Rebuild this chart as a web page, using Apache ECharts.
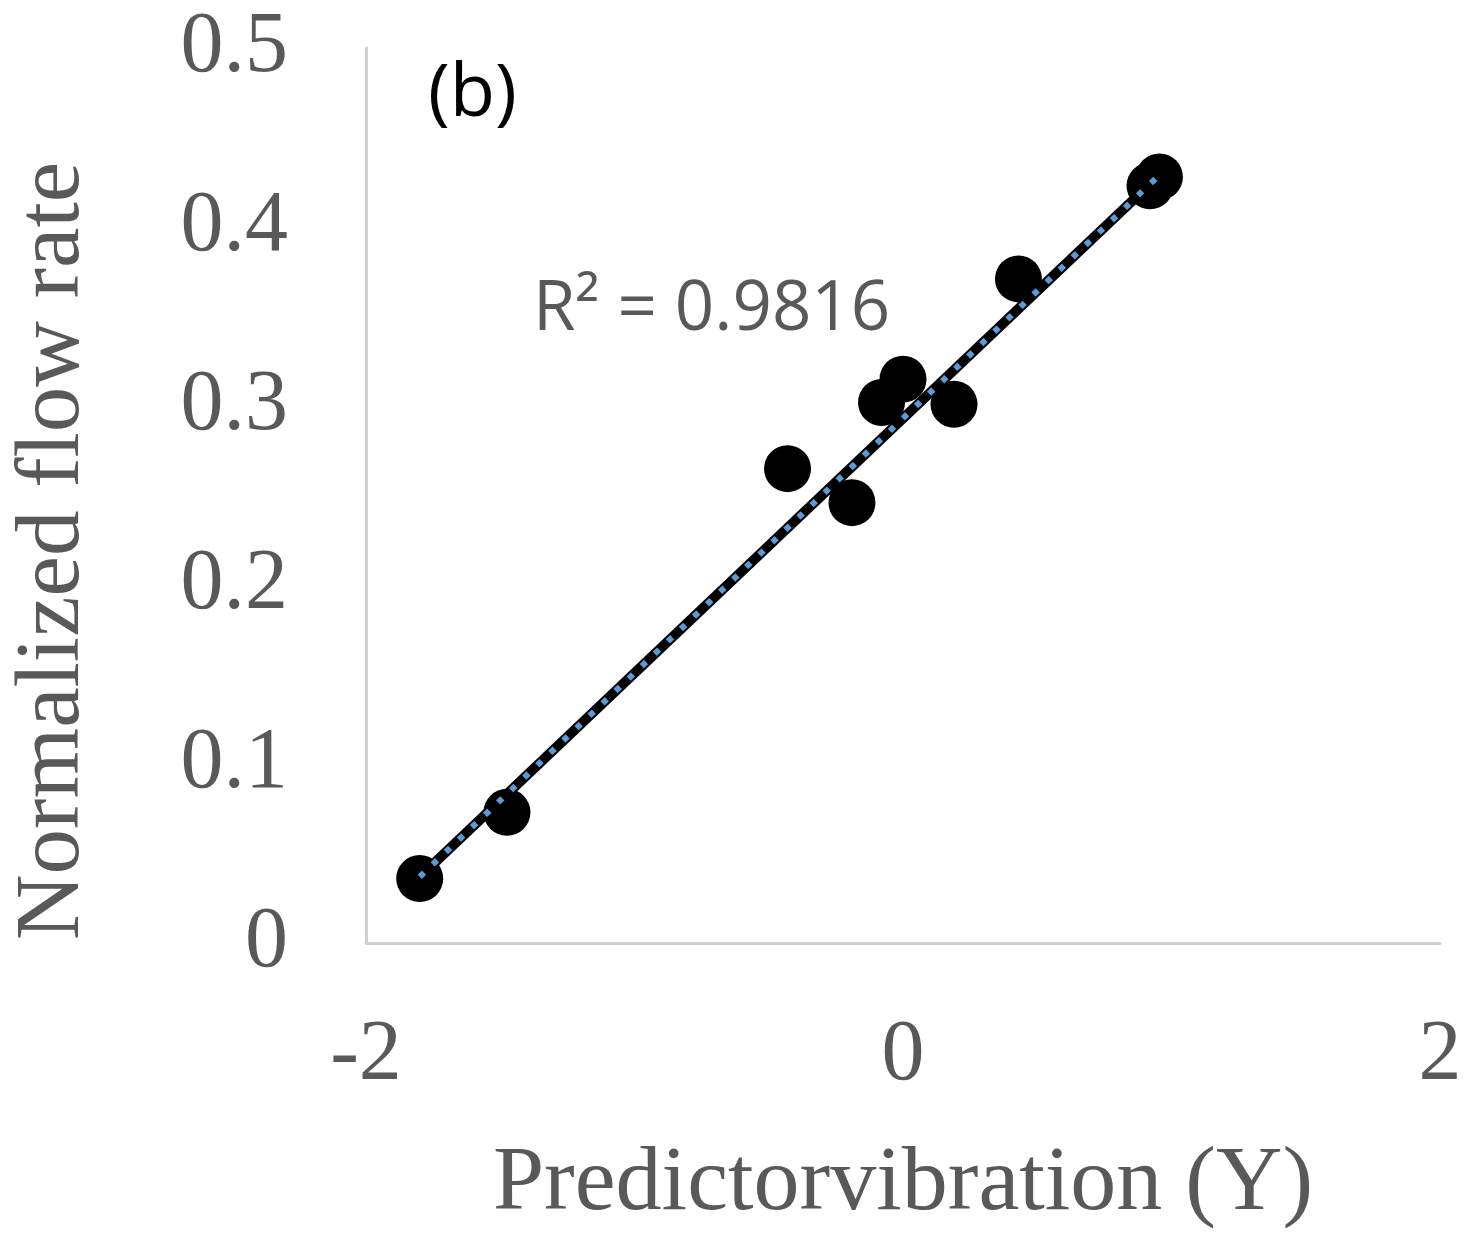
<!DOCTYPE html>
<html>
<head>
<meta charset="utf-8">
<script src="https://cdn.jsdelivr.net/npm/echarts@6/dist/echarts.min.js"></script>
<style>
  html, body { margin: 0; padding: 0; background: #fff; }
  #chart { width: 1484px; height: 1236px; }
</style>
</head>
<body>
<div id="chart"></div>
<script>
// measured points: predictor vibration (Y) vs normalized flow rate
const predictorX = [-1.80, -1.475, -0.43, -0.19, -0.08, 0.0, 0.19, 0.43, 0.92, 0.955];
const flowRate = [0.036, 0.073, 0.265, 0.246, 0.302, 0.315, 0.301, 0.371, 0.423, 0.428];
// linear trendline endpoints
const trendX = [-1.80, 0.955];
const trendY = [0.037, 0.429];
const rSquared = '0.9816';

const axisGray = '#595959';
const serif = '"Liberation Serif", "DejaVu Serif", serif';

const points = predictorX.map((x, i) => [x, flowRate[i]]);
const trend = trendX.map((x, i) => [x, trendY[i]]);

const myChart = echarts.init(document.getElementById('chart'));
myChart.setOption({
  animation: false,
  grid: { left: 366, right: 44, top: 48, bottom: 289 },
  xAxis: {
    type: 'value',
    min: -2,
    max: 2,
    interval: 2,
    name: 'Predictorvibration (Y)',
    nameLocation: 'middle',
    nameGap: 196,
    nameTextStyle: { color: axisGray, fontFamily: serif, fontSize: 92 },
    axisLine: { onZero: false, lineStyle: { color: '#d0d0d0', width: 3 } },
    axisTick: { show: false },
    splitLine: { show: false },
    axisLabel: { color: axisGray, fontFamily: serif, fontSize: 86, margin: 70 }
  },
  yAxis: {
    type: 'value',
    min: 0,
    max: 0.5,
    interval: 0.1,
    axisLine: { show: true, onZero: false, lineStyle: { color: '#d0d0d0', width: 3 } },
    axisTick: { show: false },
    splitLine: { show: false },
    axisLabel: {
      color: axisGray, fontFamily: serif, fontSize: 86, margin: 78,
      formatter: v => (v === 0 ? '0' : v.toFixed(1))
    }
  },
  graphic: [
    {
      type: 'text',
      x: 54, y: 551,
      rotation: Math.PI / 2,
      style: {
        text: 'Normalized flow rate',
        fill: axisGray,
        font: '91px ' + serif,
        textAlign: 'center',
        textVerticalAlign: 'middle'
      }
    },
    {
      type: 'text',
      x: 428, y: 95,
      style: {
        text: '(b)',
        fill: '#000',
        font: '74px "Open Sans", "Noto Sans", sans-serif',
        textVerticalAlign: 'middle'
      }
    },
    {
      type: 'text',
      x: 533, y: 310,
      style: {
        text: 'R² = ' + rSquared,
        fill: axisGray,
        font: '69px "Open Sans", "Noto Sans", sans-serif',
        textVerticalAlign: 'middle'
      }
    }
  ],
  series: [
    {
      type: 'scatter',
      data: points,
      symbol: 'circle',
      symbolSize: 47,
      itemStyle: { color: '#000', opacity: 1 },
      z: 2
    },
    {
      type: 'line',
      data: trend,
      symbol: 'none',
      lineStyle: { color: '#000', width: 10 },
      z: 3
    },
    {
      type: 'line',
      data: trend,
      symbol: 'none',
      lineStyle: { color: '#5b9bd5', width: 6, type: [6, 12] },
      z: 4
    }
  ]
});
window.addEventListener('resize', myChart.resize);
</script>
</body>
</html>
